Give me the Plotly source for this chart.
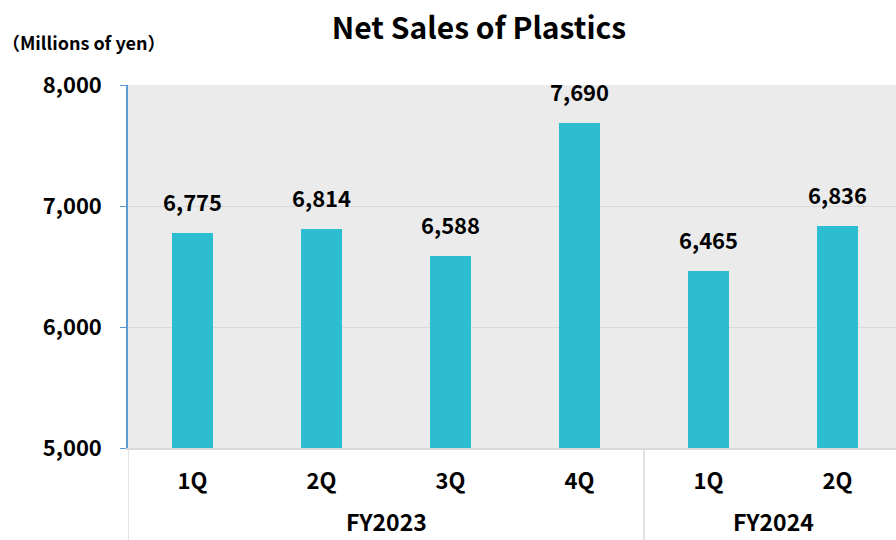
import plotly.graph_objects as go

quarters = ["1Q", "2Q", "3Q", "4Q", "1Q", "2Q"]
fiscal_years = ["FY2023", "FY2023", "FY2023", "FY2023", "FY2024", "FY2024"]
net_sales = [6775, 6814, 6588, 7690, 6465, 6836]
y_ticks = [5000, 6000, 7000, 8000]

FONT = "Noto Sans CJK JP"
BAR = "#2DBDD1"

x_pos = list(range(len(quarters)))

W, H = 896, 540
PL, PT, PB = 128, 85, 448          # plot left / top / bottom in page pixels
PH = PB - PT                        # plot height
PW = 768                            # plot width (to right edge of window)

fig = go.Figure()
fig.add_trace(go.Bar(
    x=x_pos, y=net_sales, width=0.315,
    marker=dict(color=BAR, line=dict(width=0)),
    hoverinfo="x+y",
))

for xi, v in zip(x_pos, net_sales):
    fig.add_annotation(x=xi, y=v, xref="x", yref="y", text=f"{v:,}", showarrow=False,
                       yanchor="middle", yshift=32,
                       font=dict(family=FONT, size=22, color="black", weight="bold"))

fig.update_layout(
    width=W, height=H,
    margin=dict(l=PL, r=0, t=PT, b=H - PB),
    paper_bgcolor="white", plot_bgcolor="#EBEBEB",
    showlegend=False,
    font=dict(family=FONT, color="black"),
    title=dict(text="Net Sales of Plastics", x=479/W, xanchor="center",
               y=1-28/H, yanchor="middle", xref="container", yref="container",
               font=dict(family=FONT, size=30, color="black", weight="bold")),
    bargap=0,
)

fig.update_yaxes(
    range=[5000, 8000], tickvals=y_ticks, tickformat=",d",
    showgrid=True, gridcolor="#D9D9D9", gridwidth=1,
    showline=True, linecolor="#5B9BD5", linewidth=1.5,
    ticks="outside", ticklen=6, tickcolor="#5B9BD5",
    ticklabelstandoff=14,
    tickfont=dict(family=FONT, size=22, color="black", weight="bold"),
    zeroline=False,
)
fig.update_xaxes(
    range=[-0.5, 5.453], tickvals=x_pos, ticktext=quarters,
    showgrid=False, showline=True, linecolor="#D9D9D9", linewidth=1.5,
    ticks="", ticklabelstandoff=13,
    tickfont=dict(family=FONT, size=22, color="black", weight="bold"),
    zeroline=False,
)

# group dividers below the plot
for xv in [-0.5, 3.5]:
    fig.add_shape(type="line", xref="x", yref="paper", x0=xv, x1=xv, y0=0, y1=-0.3,
                  line=dict(color="#D9D9D9", width=1.5))

# fiscal year labels
groups = {}
for i, fy in enumerate(fiscal_years):
    groups.setdefault(fy, []).append(i)
for fy, idx in groups.items():
    fig.add_annotation(x=(idx[0] + idx[-1]) / 2, xref="x", y=-(H - PB)/PH, yref="paper",
                       text=fy, showarrow=False, yanchor="bottom",
                       font=dict(family=FONT, size=23, color="black", weight="bold"))

fig.add_annotation(x=-PL/PW, xref="paper", y=(PB-42)/PH, yref="paper",
                   text="（Millions of yen）", showarrow=False, xanchor="left", yanchor="middle",
                   font=dict(family=FONT, size=18, color="black", weight="bold"))

fig.write_html("out.html", config={"displayModeBar": False},
               post_script="document.body.style.margin='0';document.body.style.overflow='hidden';")
